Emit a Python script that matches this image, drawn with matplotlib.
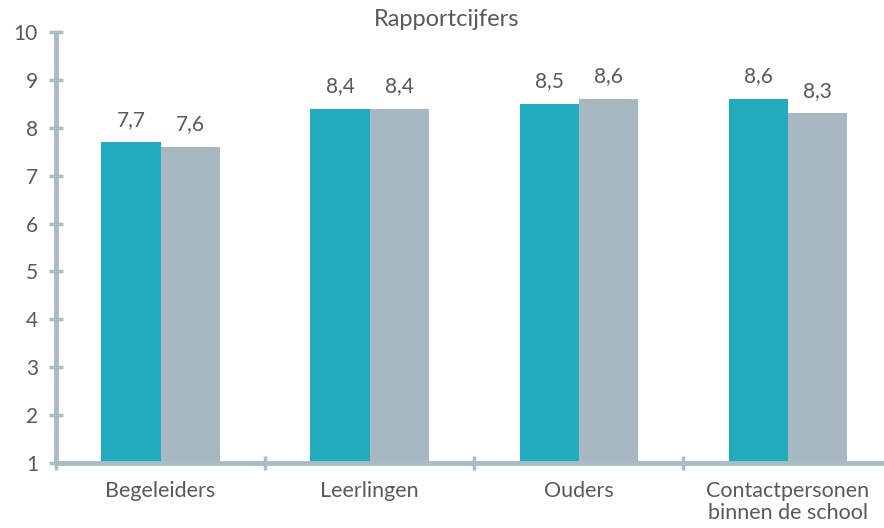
import matplotlib
matplotlib.use("Agg")
import matplotlib.pyplot as plt
import numpy as np

categories = ["Begeleiders", "Leerlingen", "Ouders", "Contactpersonen\nbinnen de school"]
series_a = [7.7, 8.4, 8.5, 8.6]
series_b = [7.6, 8.4, 8.6, 8.3]
yticks = [1, 2, 3, 4, 5, 6, 7, 8, 9, 10]

plt.rcParams['font.family'] = ['Lato', 'DejaVu Sans']
text_col = '#595959'
axis_col = '#A9BCC6'
teal = '#22ABBF'
grey = '#A7B8C3'

fig = plt.figure(figsize=(8.84, 5.28), dpi=100)
ax = fig.add_axes([56/884, (528-463)/528, 1 - 56/884, (463-32)/528])

x = np.arange(len(categories))
w = 0.283
ax.bar(x - w/2, np.array(series_a) - 1, w, bottom=1, color=teal, zorder=2)
ax.bar(x + w/2, np.array(series_b) - 1, w, bottom=1, color=grey, zorder=2)

def fmt(v):
    return f"{v:.1f}".replace('.', ',')

for xi, v in zip(x - w/2, series_a):
    ax.annotate(fmt(v), (xi, v), xytext=(0, 9), textcoords='offset points',
                ha='center', va='bottom', fontsize=15, color=text_col)
for xi, v in zip(x + w/2, series_b):
    ax.annotate(fmt(v), (xi, v), xytext=(0, 9), textcoords='offset points',
                ha='center', va='bottom', fontsize=15, color=text_col)

ax.set_xlim(-0.5, 3.46)
ax.set_ylim(1, 10)
ax.set_yticks(yticks)
ax.set_yticklabels([str(t) for t in yticks])
ax.set_xticks(x)
ax.set_xticklabels(categories, linespacing=1.15)
ax.set_xticks([-0.5, 0.5, 1.5, 2.5], minor=True)

for s in ['top', 'right']:
    ax.spines[s].set_visible(False)
for s in ['left', 'bottom']:
    ax.spines[s].set_color(axis_col)
    ax.spines[s].set_linewidth(3.5)
    ax.spines[s].set_capstyle('butt')
ax.spines['left'].set_zorder(3)
ax.spines['bottom'].set_zorder(3)

ax.tick_params(axis='y', direction='inout', length=10, width=2.5, color=axis_col,
               labelsize=15, labelcolor=text_col, pad=8)
ax.tick_params(axis='x', which='major', length=0, labelsize=15.5, labelcolor=text_col, pad=13)
ax.tick_params(axis='x', which='minor', direction='inout', length=10, width=2.5, color=axis_col)

fig.text(447/884, 1 - 20/528, "Rapportcijfers", ha='center', va='center', fontsize=17, color=text_col)

fig.savefig("out.png", dpi=100)
